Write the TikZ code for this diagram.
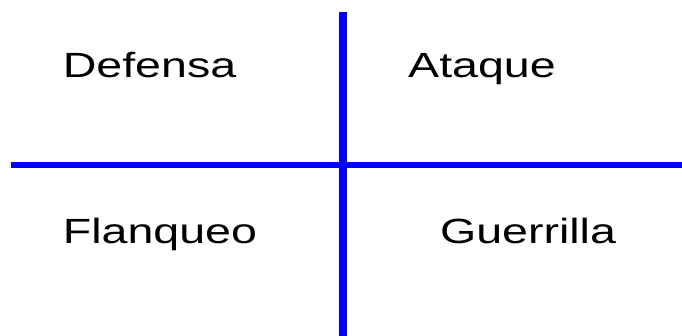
\documentclass[tikz,border=0pt]{standalone}
\usepackage{fontspec}
\setmainfont{Liberation Sans}[FakeStretch=1.33]
\definecolor{kreuzblau}{RGB}{0,0,255}

\begin{document}
\begin{tikzpicture}[x=1pt, y=1pt, font=\fontsize{35}{42}\selectfont]
			%Bildbereich
			\useasboundingbox (0,0) rectangle (682,336);
			% Endpunkte der Achsen
			\coordinate (oben) at (343,323.5);
			\coordinate (unten) at (343,0);
			\coordinate (links) at (11,171);
			\coordinate (rechts) at (682,171);
			% Achsen zeichnen
			\draw[kreuzblau, line width=7.5pt] (oben) -- (unten);
			\draw[kreuzblau, line width=6pt] (links) -- (rechts);
			% Felder beschriften
			\node[anchor=base, inner sep=0pt] (defensa) at (149.5,258) {Defensa};
			\node[anchor=base, inner sep=0pt] (ataque) at (482,258) {Ataque};
			\node[anchor=base, inner sep=0pt] (flanqueo) at (160,92) {Flanqueo};
			\node[anchor=base, inner sep=0pt] (guerrilla) at (528,92) {Guerrilla};
		\end{tikzpicture}
\end{document}
